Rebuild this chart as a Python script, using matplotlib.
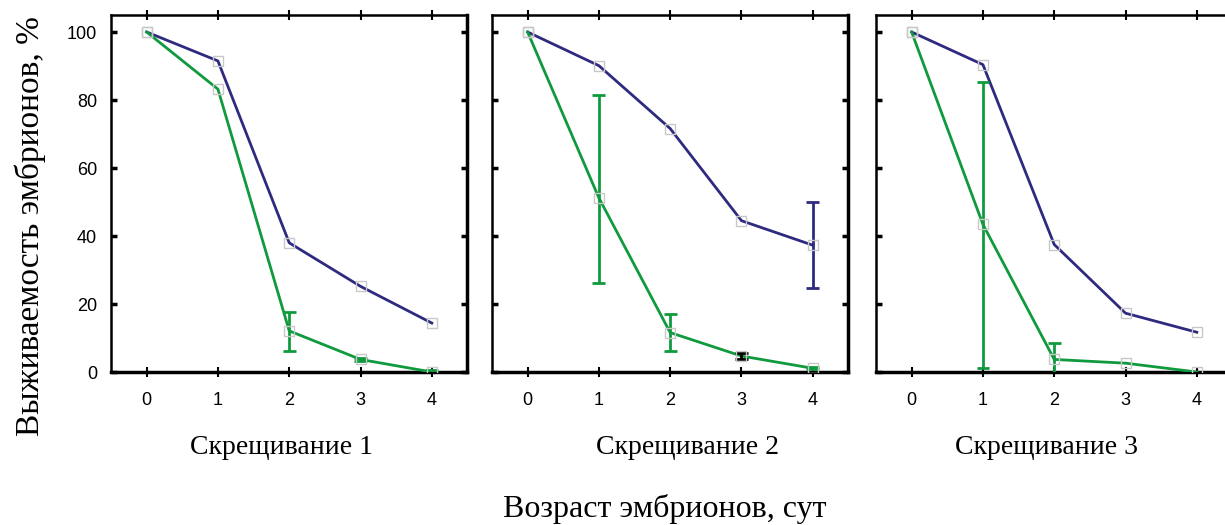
import numpy as np
import matplotlib.pyplot as plt

days = [0, 1, 2, 3, 4]
titles = ['Скрещивание 1', 'Скрещивание 2', 'Скрещивание 3']

blue = [[100, 91.5, 38.0, 25.2, 14.4],
        [100, 90.1, 71.6, 44.5, 37.3],
        [100, 90.4, 37.5, 17.3, 11.7]]
green = [[100, 83.2, 12.1, 3.7, 0.0],
         [100, 51.2, 11.6, 4.7, 1.1],
         [100, 43.4, 3.7, 2.6, 0.0]]

# error bar limits (low, high); None = no bar
green_err = [[None, None, (6.2, 17.6), (3.2, 4.2), (-0.5, 0.5)],
             [None, (26.3, 81.5), (6.2, 17.0), (3.7, 5.6), (0.8, 1.4)],
             [None, (1.1, 85.2), (-0.4, 8.5), None, None]]
blue_err = [[None] * 5,
            [None, None, None, None, (24.6, 50.0)],
            [None] * 5]

c_blue = '#2e2a80'
c_green = '#109a3e'

fig = plt.figure(figsize=(12.25, 5.25), dpi=100)
lefts = [0.0906, 0.4016, 0.7151]
title_x = [0.2294, 0.5616, 0.8539]
serif = 'Liberation Serif'
sans = 'Liberation Sans'

for i in range(3):
    ax = fig.add_axes([lefts[i], 0.2914, 0.291, 0.68])
    ax.plot(days, blue[i], color=c_blue, lw=2, zorder=3)
    ax.plot(days, green[i], color=c_green, lw=2, zorder=3)
    ax.plot(days, blue[i], 's', ms=7, mfc='none', mec='#c8c8c8', mew=1, zorder=4)
    ax.plot(days, green[i], 's', ms=7, mfc='none', mec='#c8c8c8', mew=1, zorder=4)
    for errs, col in ((green_err[i], c_green), (blue_err[i], c_blue)):
        for x, e in zip(days, errs):
            if e is None:
                continue
            ecol = 'black' if (i == 1 and x == 3) else col
            ax.vlines(x, e[0], e[1], color=ecol, lw=2, zorder=3)
            ax.hlines([e[0], e[1]], x - 0.09, x + 0.09, color=ecol, lw=2, zorder=3)
    ax.set_xlim(-0.5, 4.5)
    ax.set_ylim(0, 105)
    ax.set_xticks(days)
    ax.set_yticks([0, 20, 40, 60, 80, 100])
    ax.tick_params(axis='y', direction='in', length=4, width=2.5, right=True,
                   labelsize=13, pad=10)
    ax.tick_params(axis='x', direction='inout', length=7, width=1.5, top=True,
                   labelsize=13, pad=11)
    ax.tick_params(axis='x', which='major', labeltop=False)
    for lab in ax.get_xticklabels() + ax.get_yticklabels():
        lab.set_fontfamily(sans)
    if i > 0:
        ax.set_yticklabels([])
    for sp in ax.spines.values():
        sp.set_linewidth(1.8)
    ax.spines['right'].set_linewidth(2.5)
    ax.spines['bottom'].set_linewidth(2.5)
    fig.text(title_x[i], 0.148, titles[i], ha='center', va='center',
             fontsize=20, family=serif)

fig.text(0.025, 0.57, 'Выживаемость эмбрионов, %', rotation=90, ha='center',
         va='center', fontsize=24, family=serif)
fig.text(0.543, 0.03, 'Возраст эмбрионов, сут', ha='center', va='center',
         fontsize=23, family=serif)

fig.savefig('out.png', dpi=100)
